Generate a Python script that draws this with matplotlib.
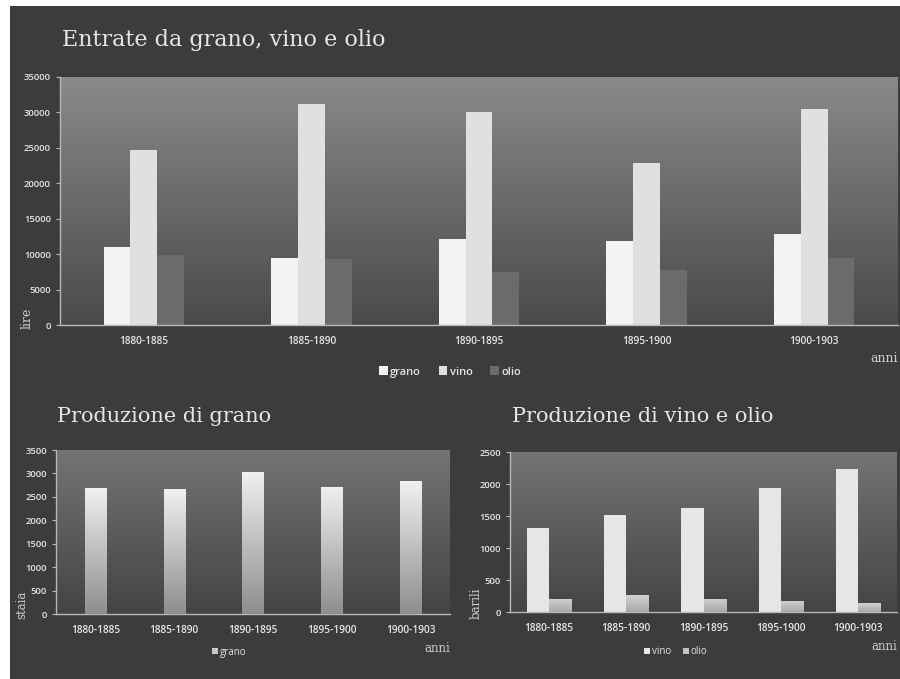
import numpy as np
import matplotlib
matplotlib.use("Agg")
import matplotlib.pyplot as plt
from matplotlib.patches import Rectangle

# data
periodi = ["1880-1885", "1885-1890", "1890-1895", "1895-1900", "1900-1903"]
entrate_grano = [11000, 9400, 12150, 11800, 12850]
entrate_vino = [24700, 31250, 30000, 22850, 30500]
entrate_olio = [9850, 9250, 7450, 7750, 9400]
staia_grano = [2680, 2665, 3040, 2715, 2830]
barili_vino = [1310, 1515, 1620, 1935, 2230]
barili_olio = [205, 260, 205, 175, 140]

BG = "#3c3c3c"
TXT = "#e6e6e6"
SERIF = "DejaVu Serif"
SANS = "Open Sans"

fig = plt.figure(figsize=(9, 6.79), dpi=100, facecolor="white")
fig.patches.append(Rectangle((10 / 900, 0), 1, 673 / 679, transform=fig.transFigure,
                             facecolor=BG, edgecolor="none", zorder=-10))


def gradient_bg(ax, top, bottom):
    grad = np.linspace(0, 1, 256).reshape(-1, 1)
    cmap = matplotlib.colors.LinearSegmentedColormap.from_list("g", [top, bottom])
    ax.imshow(grad, cmap=cmap, aspect="auto", extent=(0, 1, 0, 1),
              transform=ax.transAxes, zorder=0)


def style(ax, ymax, step):
    ax.set_xlim(-0.5, 4.5)
    ax.set_ylim(0, ymax)
    ax.set_yticks(np.arange(0, ymax + 1, step))
    ax.set_xticks(range(5))
    ax.set_xticklabels(periodi)
    for s in ["top", "right"]:
        ax.spines[s].set_visible(False)
    for s in ["left", "bottom"]:
        ax.spines[s].set_color("#b8b8b8")
        ax.spines[s].set_linewidth(1)
    ax.tick_params(axis="y", colors="#b8b8b8", labelcolor=TXT, labelsize=6.8, length=3)
    ax.tick_params(axis="x", length=0, labelcolor=TXT, labelsize=7.3, pad=8)
    for lab in ax.get_xticklabels() + ax.get_yticklabels():
        lab.set_family(SANS)
        lab.set_fontweight("semibold")


def gradient_bars(ax, bars, top, bottom):
    grad = np.linspace(0, 1, 128).reshape(-1, 1)
    cmap = matplotlib.colors.LinearSegmentedColormap.from_list("b", [top, bottom])
    for b in bars:
        x0, w, h = b.get_x(), b.get_width(), b.get_height()
        im = ax.imshow(grad, cmap=cmap, aspect="auto", extent=(x0, x0 + w, 0, h), zorder=3)
        im.set_clip_path(b)


x = np.arange(len(periodi))

# ---- top chart
ax1 = fig.add_axes([60 / 900, 1 - 325 / 679, 838 / 900, 248 / 679])
gradient_bg(ax1, "#8a8a8a", "#4a4a4a")
w = 0.16
b1 = ax1.bar(x - w, entrate_grano, w, color="#f3f3f3", label="grano", zorder=2)
b2 = ax1.bar(x, entrate_vino, w, color="#e0e0e0", label="vino", zorder=2)
b3 = ax1.bar(x + w, entrate_olio, w, color="#6b6b6b", label="olio", zorder=2)
style(ax1, 35000, 5000)
fig.legend(handles=[b1, b2, b3], loc="center", bbox_to_anchor=(450 / 900, 1 - 372 / 679),
           ncol=3, frameon=False, labelcolor=TXT, handlelength=0.8,
           handleheight=0.8, handletextpad=0.2, columnspacing=1.6,
           prop={"family": SANS, "size": 8, "weight": "semibold"})
fig.text(62 / 900, 1 - 40 / 679, "Entrate da grano, vino e olio", family=SERIF,
         fontsize=16, color=TXT, va="center", ha="left")
fig.text(27 / 900, 1 - 318 / 679, "lire", family=SERIF, fontsize=9, color="#cfcfcf",
         rotation=90, ha="center", va="center")
fig.text(898 / 900, 1 - 358 / 679, "anni", family=SERIF, fontsize=9, color="#cfcfcf",
         ha="right", va="center")

# ---- bottom left
ax2 = fig.add_axes([56 / 900, 1 - 614 / 679, 394 / 900, 164 / 679])
gradient_bg(ax2, "#747474", "#444444")
b4 = ax2.bar(x, staia_grano, 0.27, color="#c8c8c8", label="grano", zorder=2)
gradient_bars(ax2, b4, "#f0f0f0", "#8e8e8e")
style(ax2, 3500, 500)
fig.legend(handles=[b4], loc="center", bbox_to_anchor=(229 / 900, 1 - 652 / 679),
           frameon=False, labelcolor=TXT, handlelength=0.6, handleheight=0.6,
           handletextpad=0.2, prop={"family": SANS, "size": 7})
fig.text(57 / 900, 1 - 416 / 679, "Produzione di grano", family=SERIF,
         fontsize=15, color=TXT, va="center", ha="left")
fig.text(22 / 900, 1 - 605 / 679, "staia", family=SERIF, fontsize=8.5, color="#cfcfcf",
         rotation=90, ha="center", va="center")
fig.text(450 / 900, 1 - 648 / 679, "anni", family=SERIF, fontsize=8.5, color="#cfcfcf",
         ha="right", va="center")

# ---- bottom right
ax3 = fig.add_axes([510 / 900, 1 - 612 / 679, 387 / 900, 160 / 679])
gradient_bg(ax3, "#747474", "#444444")
w = 0.285
b5 = ax3.bar(x - w / 2, barili_vino, w, color="#e6e6e6", label="vino", zorder=2)
b6 = ax3.bar(x + w / 2, barili_olio, w, color="#c4c4c4", label="olio", zorder=2)
gradient_bars(ax3, b6, "#d2d2d2", "#a8a8a8")
style(ax3, 2500, 500)
fig.legend(handles=[b5, b6], loc="center", bbox_to_anchor=(676 / 900, 1 - 652 / 679),
           ncol=2, frameon=False, labelcolor=TXT, handlelength=0.6, handleheight=0.6,
           handletextpad=0.2, columnspacing=1.2, prop={"family": SANS, "size": 7})
fig.text(512 / 900, 1 - 416 / 679, "Produzione di vino e olio", family=SERIF,
         fontsize=15, color=TXT, va="center", ha="left")
fig.text(476 / 900, 1 - 603 / 679, "barili", family=SERIF, fontsize=8.5, color="#cfcfcf",
         rotation=90, ha="center", va="center")
fig.text(897 / 900, 1 - 646 / 679, "anni", family=SERIF, fontsize=8.5, color="#cfcfcf",
         ha="right", va="center")

fig.savefig("out.png", dpi=100, facecolor=fig.get_facecolor())
